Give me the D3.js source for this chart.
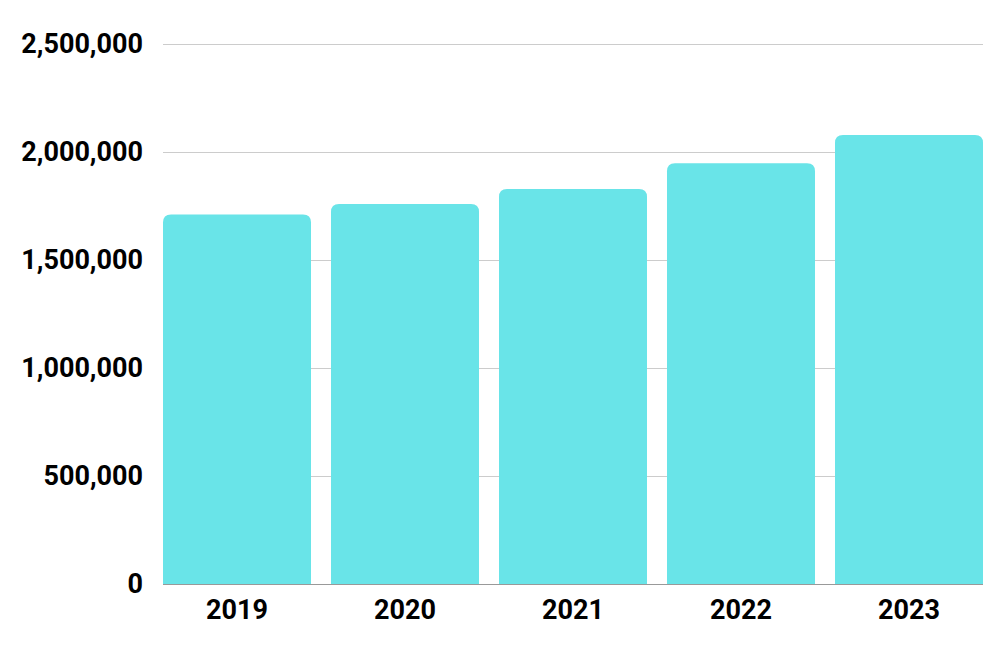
<!DOCTYPE html>
<html>
<head>
<meta charset="utf-8">
<script src="https://cdn.jsdelivr.net/npm/d3@7"></script>
<style>
html,body{margin:0;padding:0;background:#fff;}
svg{display:block;}
</style>
</head>
<body>
<svg id="chart" width="1000" height="656"></svg>
<script>
const categories = ["2019", "2020", "2021", "2022", "2023"];
const values = [1711000, 1759000, 1829000, 1948000, 2079000];
const yTicks = [0, 500000, 1000000, 1500000, 2000000, 2500000];

const svg = d3.select("#chart");
const plotLeft = 163, plotRight = 983, plotTop = 44, plotBottom = 584;

const x = d3.scaleBand().domain(categories).range([plotLeft, plotRight])
  .paddingInner(20/168).paddingOuter(0);
const y = d3.scaleLinear().domain([0, 2500000]).range([plotBottom, plotTop]);

const fmt = d3.format(",");

// gridlines
svg.append("g").selectAll("line").data(yTicks.filter(d => d > 0)).join("line")
  .attr("x1", plotLeft).attr("x2", plotRight)
  .attr("y1", d => y(d)).attr("y2", d => y(d))
  .attr("stroke", "#cccccc").attr("stroke-width", 1).attr("shape-rendering", "crispEdges");

// y labels
svg.append("g").selectAll("text").data(yTicks).join("text")
  .attr("x", 143).attr("y", d => y(d))
  .attr("text-anchor", "end").attr("dominant-baseline", "central")
  .attr("font-family", "Roboto").attr("font-weight", "bold").attr("font-size", 27)
  .attr("fill", "#000").text(d => fmt(d));

// bars with rounded top corners
const r = 8;
svg.append("g").selectAll("path").data(categories).join("path")
  .attr("d", (c, i) => {
    const x0 = x(c), w = x.bandwidth(), y0 = y(values[i]), yb = y(0);
    return `M${x0},${yb}V${y0 + r}Q${x0},${y0} ${x0 + r},${y0}H${x0 + w - r}Q${x0 + w},${y0} ${x0 + w},${y0 + r}V${yb}Z`;
  })
  .attr("fill", "#69e4e8");

// baseline
svg.append("line").attr("x1", plotLeft).attr("x2", plotRight)
  .attr("y1", y(0)).attr("y2", y(0))
  .attr("stroke", "#999999").attr("stroke-width", 1).attr("shape-rendering", "crispEdges");

// x labels
svg.append("g").selectAll("text").data(categories).join("text")
  .attr("x", c => x(c) + x.bandwidth() / 2).attr("y", 610)
  .attr("text-anchor", "middle").attr("dominant-baseline", "central")
  .attr("font-family", "Roboto").attr("font-weight", "bold").attr("font-size", 27)
  .attr("fill", "#000").text(c => c);
</script>
</body>
</html>
